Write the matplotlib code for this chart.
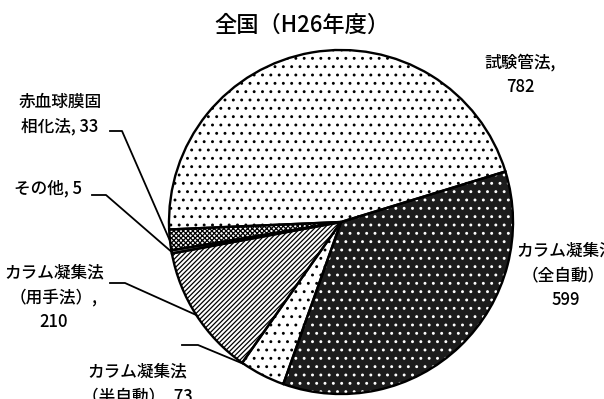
import matplotlib
matplotlib.use("Agg")
import matplotlib.pyplot as plt
from matplotlib.patches import Wedge
import numpy as np

plt.rcParams['font.family'] = ['Noto Sans CJK JP', 'DejaVu Sans']
plt.rcParams['hatch.linewidth'] = 0.9

title = "全国（H26年度）"
categories = ["試験管法", "カラム凝集法（全自動）", "カラム凝集法（半自動）",
              "カラム凝集法（用手法）", "その他", "赤血球膜固相化法"]
values = [782, 599, 73, 210, 5, 33]
label_texts = ["試験管法,\n782", "カラム凝集法\n（全自動）,\n599", "カラム凝集法\n（半自動）, 73",
               "カラム凝集法\n（用手法）,\n210", "その他, 5", "赤血球膜固\n相化法, 33"]

fig = plt.figure(figsize=(6.04, 3.99), dpi=100)
ax = fig.add_axes([0, 0, 1, 1])

cx, cy, R = 341, 177, 172
explode = [3, 6, 3, 3, 3, 3]
explode = [e / R for e in explode]

wedges, _ = ax.pie(values, center=(cx, cy), radius=R, startangle=182.5,
                   counterclock=False, explode=explode,
                   wedgeprops=dict(linewidth=1.6, edgecolor='black'))
ax.set_xlim(0, 604)
ax.set_ylim(0, 399)
ax.set_aspect('equal')
ax.axis('off')

styles = [
    dict(face='white', hatch='..', hcol='black'),
    dict(face='#1c1c1c', hatch='..', hcol='white'),
    dict(face='white', hatch='..', hcol='black'),
    dict(face='white', hatch='///////', hcol='black'),
    dict(face='#a0a0a0', hatch=None, hcol='black'),
    dict(face='white', hatch='xxxxxxx', hcol='black'),
]
for w, s in zip(wedges, styles):
    w.set_facecolor(s['face'])
    w.set_edgecolor(s['hcol'])
    w.set_linewidth(0)
    if s['hatch']:
        w.set_hatch(s['hatch'])
    outline = Wedge(w.center, w.r, w.theta1, w.theta2, fill=False,
                    edgecolor='black', linewidth=1.7, zorder=w.get_zorder() + 0.1)
    ax.add_patch(outline)

ax.text(302, 374, title, fontsize=16, ha='center', va='center', fontweight='medium')

fs = 12
label_pos = [
    (520, 75),
    (566, 275),
    (137, 384),
    (54, 297),
    (48, 188),
    (60, 114),
]
for txt, (lx, ly) in zip(label_texts, label_pos):
    ax.text(lx, 399 - ly, txt, fontsize=fs, ha='center', va='center',
            linespacing=1.5, fontweight='medium')

# leader: start x, y (px from top), bend x, fraction along wedge angle
leaders = {
    5: (110, 131, 122, 0.55),
    4: (92, 195, 106, 0.5),
    3: (110, 283, 125, 0.5),
    2: (182, 345, 198, 0.05),
}
for idx, (x0, y0, x1, t) in leaders.items():
    w = wedges[idx]
    ang = np.deg2rad(w.theta1 + t * (w.theta2 - w.theta1))
    ex = w.center[0] + w.r * np.cos(ang)
    ey = w.center[1] + w.r * np.sin(ang)
    ax.plot([x0, x1, ex], [399 - y0, 399 - y0, ey], color='black', lw=1.3, zorder=10)

fig.savefig("out.png", dpi=100)
